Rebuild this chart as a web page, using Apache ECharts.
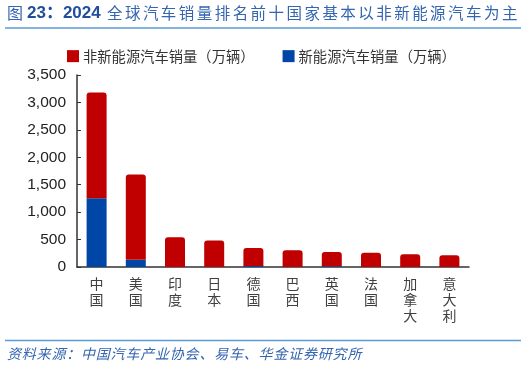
<!DOCTYPE html>
<html><head><meta charset="utf-8">
<script src="https://cdn.jsdelivr.net/npm/echarts@6/dist/echarts.min.js"></script>
<style>html,body{margin:0;padding:0;background:#fff}#c{width:526px;height:370px}</style>
</head><body><div id="c"></div>
<script>
var categories = ['中国','美国','印度','日本','德国','巴西','英国','法国','加拿大','意大利'];
var nevSales = [1255, 130, 0, 0, 20, 0, 15, 0, 0, 0];
var nonNevSales = [1925, 1555, 541, 481, 326, 304, 258, 262, 231, 213];
var yTicks = [0, 500, 1000, 1500, 2000, 2500, 3000, 3500];
var seriesNames = ['非新能源汽车销量（万辆）', '新能源汽车销量（万辆）'];
var titleText = '全球汽车销量排名前十国家基本以非新能源汽车为主';
var sourceText = '资料来源：中国汽车产业协会、易车、华金证券研究所';

var cjk = '"Noto Sans CJK SC", "Liberation Sans", sans-serif';

function spacedText(str, x0, y, pitch, style) {
  return str.split('').map(function (ch, i) {
    return { type: 'text', x: x0 + i * pitch, y: y,
      style: Object.assign({ text: ch }, style) };
  });
}

var graphics = [
  { type: 'text', x: 7, y: 5, style: { text: '图', fontSize: 16, fontFamily: cjk, fill: '#3465b0' } },
  { type: 'text', x: 27, y: 5, style: { text: '23：2024', fontSize: 17, fontWeight: 'bold',
      fontFamily: '"Liberation Sans", "Noto Sans CJK SC", sans-serif', fill: '#1f4f9c' } },
  { type: 'line', shape: { x1: 5, y1: 28, x2: 521, y2: 28 }, style: { stroke: '#5b9bd5', lineWidth: 1.5 } },
  { type: 'line', shape: { x1: 5, y1: 340.5, x2: 521, y2: 340.5 }, style: { stroke: '#5b9bd5', lineWidth: 1.5 } }
].concat(
  spacedText(titleText, 107, 5, 17.95, { fontSize: 15.5, fontFamily: cjk, fill: '#3465b0' }),
  spacedText(sourceText, 7, 347, 14.8, { fontSize: 14, fontStyle: 'italic', fontFamily: cjk, fill: '#3465b0' })
);

var chart = echarts.init(document.getElementById('c'));
chart.setOption({
  animation: false,
  backgroundColor: '#fff',
  graphic: graphics,
  legend: {
    top: 44, left: 62, itemWidth: 12, itemHeight: 12, itemGap: 28,
    icon: 'rect',
    data: seriesNames,
    textStyle: { fontSize: 14.3, color: '#333', fontFamily: cjk, padding: [0,0,0,-1] }
  },
  grid: { left: 77, right: 57, top: 75, bottom: 103, containLabel: false },
  xAxis: {
    type: 'category', data: categories,
    axisLine: { lineStyle: { color: '#333', width: 1.5 } },
    axisTick: { inside: true, length: 5, lineStyle: { color: '#333' }, alignWithLabel: false },
    axisLabel: {
      interval: 0, margin: 9, color: '#404040', fontSize: 14, lineHeight: 16, fontFamily: cjk,
      formatter: function (v) { return v.split('').join('\n'); }
    }
  },
  yAxis: {
    type: 'value', min: 0, max: 3500, interval: 500,
    axisLine: { show: true, lineStyle: { color: '#333', width: 1.5 } },
    axisTick: { show: true, inside: true, length: 4, lineStyle: { color: '#333' } },
    splitLine: { show: false },
    axisLabel: {
      margin: 11, color: '#222', fontSize: 15.5, fontFamily: '"Liberation Sans", Arial, sans-serif',
      formatter: function (v) { return yTicks.indexOf(v) >= 0 ? v.toLocaleString('en-US') : ''; }
    }
  },
  series: [
    { name: seriesNames[1], type: 'bar', stack: 'total', data: nevSales, barWidth: 20,
      itemStyle: { color: '#0046a6' } },
    { name: seriesNames[0], type: 'bar', stack: 'total', data: nonNevSales, barWidth: 20,
      itemStyle: { color: '#c00000', borderRadius: [3, 3, 0, 0] } }
  ]
});
</script></body></html>
